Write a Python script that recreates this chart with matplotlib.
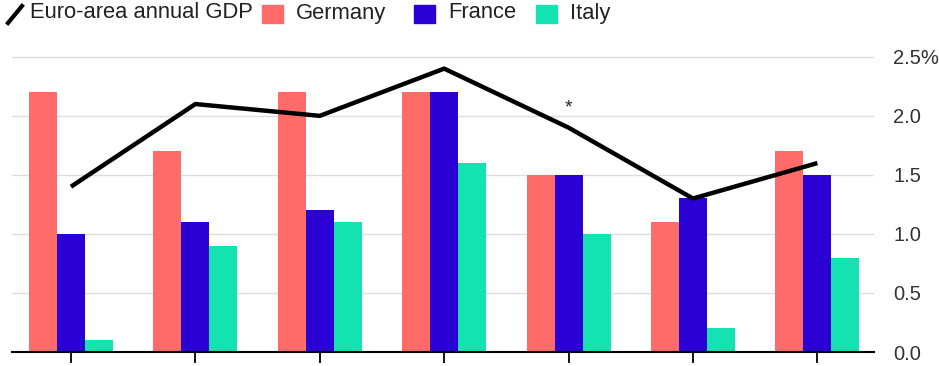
import numpy as np
import matplotlib
matplotlib.use("Agg")
from matplotlib import pyplot as plt
from matplotlib.patches import Rectangle
from matplotlib.lines import Line2D

# values (% growth)
germany = [2.2, 1.7, 2.2, 2.2, 1.5, 1.1, 1.7]
france = [1.0, 1.1, 1.2, 2.2, 1.5, 1.3, 1.5]
italy = [0.1, 0.9, 1.1, 1.6, 1.0, 0.2, 0.8]
euro_gdp = [1.4, 2.1, 2.0, 2.4, 1.9, 1.3, 1.6]
star_idx = 4

yticks = [0.0, 0.5, 1.0, 1.5, 2.0, 2.5]
ytick_labels = ["0.0", "0.5", "1.0", "1.5", "2.0", "2.5%"]

c_ger = "#ff6b68"
c_fra = "#2a00d4"
c_ita = "#14e3b1"

plt.rcParams["font.family"] = ["Liberation Sans", "DejaVu Sans"]

fig = plt.figure(figsize=(9.39, 3.66), dpi=100)
W, H = 939, 366
ax = fig.add_axes([12 / W, 1 - 352 / H, (874 - 12) / W, (352 - 45) / H])

x = np.arange(len(germany))
w = 0.225
ax.bar(x - w, germany, w, color=c_ger, zorder=2)
ax.bar(x, france, w, color=c_fra, zorder=2)
ax.bar(x + w, italy, w, color=c_ita, zorder=2)
ax.plot(x, euro_gdp, color="black", lw=3.2, zorder=3, solid_capstyle="butt")
ax.annotate("*", xy=(x[star_idx], euro_gdp[star_idx]), xytext=(0, 8),
            textcoords="offset points", ha="center", va="bottom", fontsize=14,
            color="#222222")

ax.set_xlim(-0.474, 6.455)
ax.set_ylim(0, 2.6)
ax.set_yticks(yticks)
ax.set_yticklabels(ytick_labels)
ax.yaxis.tick_right()
ax.tick_params(axis="y", length=0, pad=14, labelsize=14.5, labelcolor="#333333")
ax.set_xticks(x)
ax.set_xticklabels([])
ax.tick_params(axis="x", length=8, width=1.3, color="black")
ax.grid(axis="y", color="#dddddd", lw=1, zorder=0)
for s in ["top", "left", "right"]:
    ax.spines[s].set_visible(False)
ax.spines["bottom"].set_linewidth(1.5)
ax.spines["bottom"].set_zorder(4)

# legend across the top
fig.add_artist(Line2D([8 / W, 22 / W], [1 - 23 / H, 1 - 6 / H], color="black", lw=3))
ty = 1 - 13 / H
fig.text(30 / W, ty, "Euro-area annual GDP", fontsize=15.8, va="center", color="#222222")
for x0, c, lab in [(262, c_ger, "Germany"), (414, c_fra, "France"), (536, c_ita, "Italy")]:
    fig.add_artist(Rectangle((x0 / W, 1 - 23 / H), 21 / W, 18 / H, color=c,
                             transform=fig.transFigure))
    fig.text((x0 + 34) / W, ty, lab, fontsize=15.8, va="center", color="#222222")

fig.savefig("out.png", dpi=100)
